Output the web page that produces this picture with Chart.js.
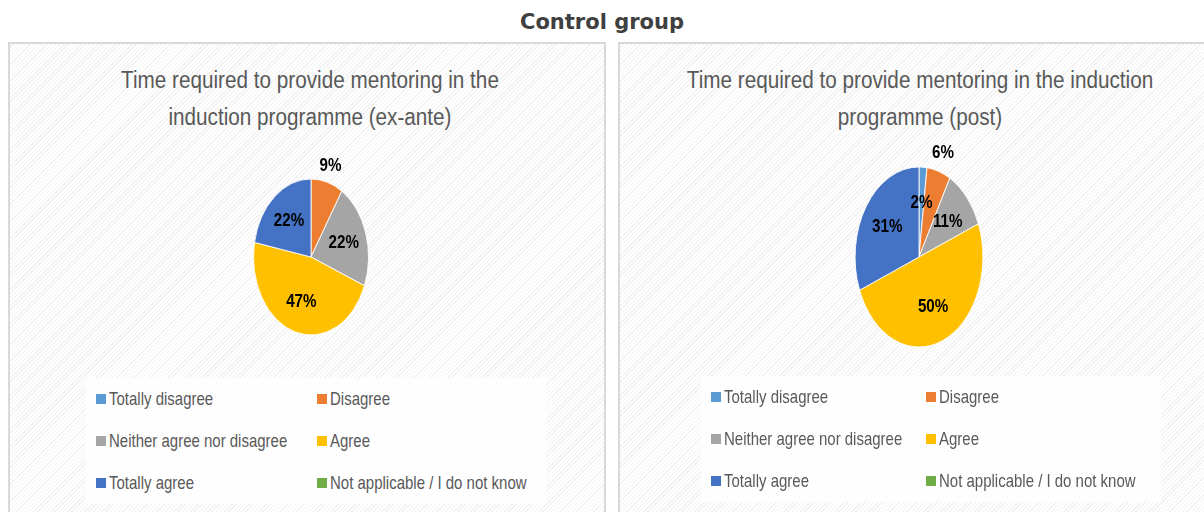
<!DOCTYPE html>
<html>
<head>
<meta charset="utf-8">
<script src="https://cdn.jsdelivr.net/npm/chart.js@4/dist/chart.umd.min.js"></script>
<style>
  body { margin: 0; width: 1204px; height: 512px; background: #fff; position: relative; overflow: hidden;
         font-family: "Liberation Sans", Arial, sans-serif; }
  #main-title { position: absolute; left: 0; width: 1204px; top: 10px; text-align: center;
                font-family: "DejaVu Sans", sans-serif; font-size: 21px; font-weight: bold; color: #404040; }
  .panel { position: absolute; top: 42px; height: 480px; border: 2px solid #d9d9d9;
           background: repeating-linear-gradient(135deg, #ffffff 0 2px, #f1f1f1 2px 3px); }
  .ptitle { position: absolute; text-align: center; font-size: 23px; line-height: 37px; color: #595959;
            white-space: nowrap; transform: scaleX(0.9); }
  canvas { position: absolute; }
  .legend { position: absolute; display: grid; grid-auto-rows: 42px; background: rgba(255,255,255,0.75);
            font-size: 18.5px; color: #595959; }
  .legend .item { display: flex; align-items: center; white-space: nowrap; }
  .legend .sw { width: 10px; height: 10px; margin-right: 3px; flex-shrink: 0; }
  .legend .tx { display: inline-block; transform: scaleX(0.81); transform-origin: left center; }
</style>
</head>
<body>
<div id="main-title">Control group</div>

<div class="panel" style="left:8px; width:594px;"></div>
<div class="panel" style="left:618px; width:600px;"></div>

<div class="ptitle" style="left:60px; width:500px; top:62px;">Time required to provide mentoring in the<br>induction programme (ex-ante)</div>
<div class="ptitle" style="left:620px; width:600px; top:62px;">Time required to provide mentoring in the induction<br>programme (post)</div>

<canvas id="pieBefore" width="300" height="240" style="left:161px; top:137px;"></canvas>
<canvas id="pieAfter" width="300" height="240" style="left:769px; top:137px;"></canvas>

<div class="legend" id="legendBefore" style="left:86px; top:378px; padding-left:10px; grid-template-columns: 221px 229px;"></div>
<div class="legend" id="legendAfter" style="left:701px; top:376px; padding-left:10px; grid-template-columns: 215px 235px;"></div>

<script>
const categories = [
    "Totally disagree",
    "Disagree",
    "Neither agree nor disagree",
    "Agree",
    "Totally agree",
    "Not applicable / I do not know"
];
const colors = ["#5B9BD5", "#ED7D31", "#A5A5A5", "#FFC000", "#4472C4", "#70AD47"];

// percentages
const valuesBefore = [0, 9, 22, 47, 22, 0];
const valuesAfter = [2, 6, 11, 50, 31, 0];

/**
 * Squashes the pie horizontally and writes the percentage labels.
 */
const ellipsePlugin = {
    id: "ellipse",
    beforeDatasetsDraw(chart, args, opts) {
        const arc = chart.getDatasetMeta(0).data[0];
        const ctx = chart.ctx;
        ctx.save();
        ctx.translate(arc.x, 0);
        ctx.scale(opts.sx, 1);
        ctx.translate(-arc.x, 0);
    },
    afterDatasetsDraw(chart, args, opts) {
        const ctx = chart.ctx;
        ctx.restore();

        const meta = chart.getDatasetMeta(0);
        const values = chart.data.datasets[0].data;
        ctx.font = "bold 19px 'Liberation Sans', Arial, sans-serif";
        ctx.fillStyle = "#000";
        ctx.textAlign = "center";
        ctx.textBaseline = "middle";
        meta.data.forEach((arc, i) => {
            if (!values[i]) return;
            const mid = (arc.startAngle + arc.endAngle) / 2;
            const f = opts.outside.includes(i) ? 1.22 : 0.6;
            const r = arc.outerRadius * f;
            ctx.save();
            ctx.translate(arc.x + Math.cos(mid) * r * opts.sx, arc.y + Math.sin(mid) * r);
            ctx.scale(0.8, 1);
            ctx.fillText(values[i] + "%", 0, 0);
            ctx.restore();
        });
    }
};

function makePie(id, values, radius, sx, outside) {
    new Chart(document.getElementById(id), {
        type: "pie",
        data: {
            labels: categories,
            datasets: [{
                data: values,
                backgroundColor: colors,
                borderColor: "#ffffff",
                borderWidth: 1,
                radius: radius
            }]
        },
        options: {
            responsive: false,
            animation: false,
            events: [],
            plugins: {
                legend: { display: false },
                tooltip: { enabled: false },
                ellipse: { sx: sx, outside: outside }
            }
        },
        plugins: [ellipsePlugin]
    });
}

function makeLegend(id) {
    const box = document.getElementById(id);
    categories.forEach((c, i) => {
        box.innerHTML += `<div class="item"><span class="sw" style="background:${colors[i]}"></span><span class="tx">${c}</span></div>`;
    });
}

makePie("pieBefore", valuesBefore, 78, 0.737, [1]);
makePie("pieAfter", valuesAfter, 90, 0.71, [1]);
makeLegend("legendBefore");
makeLegend("legendAfter");
</script>
</body>
</html>
